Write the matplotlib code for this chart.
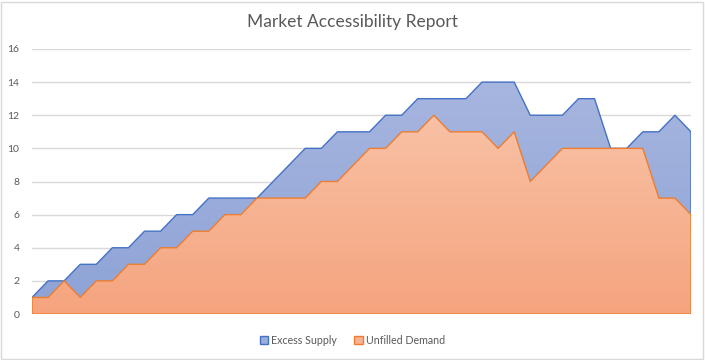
import numpy as np
import matplotlib
matplotlib.use("Agg")
import matplotlib.pyplot as plt
from matplotlib.colors import LinearSegmentedColormap
from matplotlib.patches import Patch, Rectangle

title = "Market Accessibility Report"
series_names = ["Excess Supply", "Unfilled Demand"]
excess_supply = [1, 2, 2, 3, 3, 4, 4, 5, 5, 6, 6, 7, 7, 7, 7, 8, 9, 10, 10, 11, 11,
                 11, 12, 12, 13, 13, 13, 13, 14, 14, 14, 12, 12, 12, 13, 13, 10, 10, 11, 11, 12, 11]
unfilled_demand = [1, 1, 2, 1, 2, 2, 3, 3, 4, 4, 5, 5, 6, 6, 7, 7, 7, 7, 8, 8, 9,
                   10, 10, 11, 11, 12, 11, 11, 11, 10, 11, 8, 9, 10, 10, 10, 10, 10, 10, 7, 7, 6]
y_ticks = [0, 2, 4, 6, 8, 10, 12, 14, 16]

plt.rcParams['font.family'] = ['Lato', 'DejaVu Sans']
txt = '#595959'

fig = plt.figure(figsize=(7.05, 3.6), dpi=100)
ax = fig.add_axes([32/705, 1-314/360, (691-32)/705, (314-49)/360])

x = np.arange(len(excess_supply))


def grad_area(ax, x, y, c_top, c_bot, edge, z):
    poly = ax.fill_between(x, 0, y, facecolor='none', edgecolor=edge, lw=1.0, zorder=z + 0.1)
    grad = np.linspace(0, 1, 256).reshape(-1, 1)
    cmap = LinearSegmentedColormap.from_list('g', [c_bot, c_top])
    im = ax.imshow(grad, extent=[x[0], x[-1], 0, max(y)], origin='lower', cmap=cmap,
                   aspect='auto', zorder=z, interpolation='bilinear')
    im.set_clip_path(poly.get_paths()[0], transform=ax.transData)
    return poly


grad_area(ax, x, excess_supply, '#A7B6DF', '#8DA2D6', '#4472C4', 2)
grad_area(ax, x, unfilled_demand, '#F8C1A5', '#F5A47E', '#ED7D31', 3)

ax.set_xlim(x[0], x[-1])
ax.set_ylim(0, 16)
ax.set_yticks(y_ticks)
ax.set_yticklabels([str(t) for t in y_ticks])
ax.set_xticks([])
ax.tick_params(axis='y', length=0, pad=9, labelsize=7.5, labelcolor=txt)
for s in ax.spines.values():
    s.set_visible(False)
ax.grid(axis='y', color='#D9D9D9', lw=1.0, zorder=0)
ax.set_axisbelow(True)

fig.text(0.5, 1-22/360, title, ha='center', va='center', fontsize=12.5, color=txt)

handles = [Patch(facecolor='#9BAEDB', edgecolor='#4472C4', lw=1.0),
           Patch(facecolor='#F7B292', edgecolor='#ED7D31', lw=1.0)]
fig.legend(handles, series_names, loc='center', bbox_to_anchor=(0.5, 1-340/360), ncol=2,
           frameon=False, fontsize=7.7, labelcolor=txt, handlelength=0.8, handleheight=0.8,
           handletextpad=0.3, columnspacing=1.6)

fig.patches.append(Rectangle((0.5/705, 1.5/360), 702.5/705, 357/360, transform=fig.transFigure,
                             fill=False, edgecolor='#D9D9D9', lw=1.0))

fig.savefig('out.png', dpi=100)
